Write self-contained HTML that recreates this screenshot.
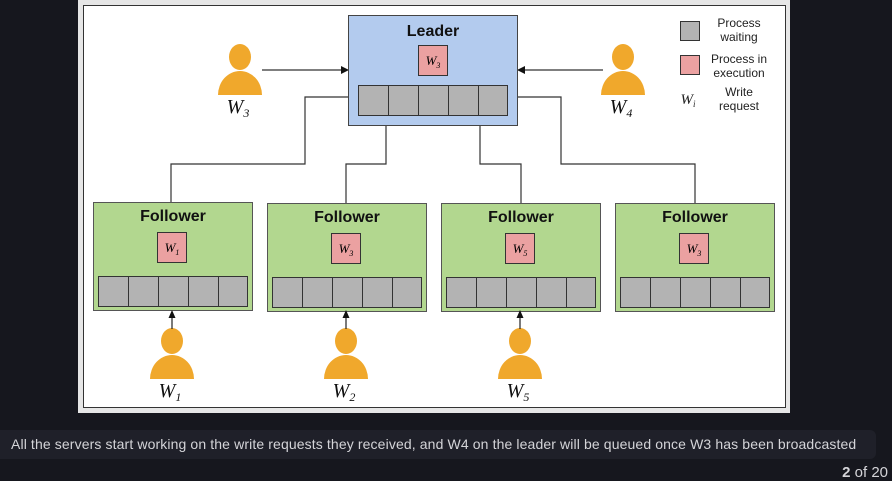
<!DOCTYPE html>
<html><head><meta charset="utf-8"><style>
html,body{margin:0;padding:0;background:#16171e;width:892px;height:481px;overflow:hidden;font-family:"Liberation Sans",sans-serif}
#cap{position:absolute;left:0;top:430px;width:876px;height:29px;background:#1f2029;border-radius:0 6px 6px 0;color:#d4d4d8;font-size:14px;line-height:29px;padding-left:11px;box-sizing:border-box;white-space:nowrap;letter-spacing:0.12px}
#pg{position:absolute;right:4px;top:464px;color:#d4d4d8;font-size:15px}
svg{position:absolute;left:0;top:0}
.m{font-family:"Liberation Serif",serif;font-style:italic}
</style></head><body>
<svg width="892" height="430">
<rect x="78" y="0" width="712" height="413" fill="#e6e6e6"/>
<rect x="83.5" y="5.5" width="702" height="402" fill="#fff" stroke="#333"/>
<g fill="none" stroke="#333" stroke-width="1.2">
<polyline points="349,97 305,97 305,164 171,164 171,202"/>
<polyline points="386,125 386,164 346,164 346,203"/>
<polyline points="480,125 480,164 521,164 521,203"/>
<polyline points="517,97 561,97 561,164 695,164 695,203"/>
<line x1="262" y1="70" x2="342" y2="70"/>
<line x1="603" y1="70" x2="524" y2="70"/>
</g>
<polygon points="349,70 341,66 341,74" fill="#111"/>
<polygon points="517,70 525,66 525,74" fill="#111"/>
<g>
<rect x="348.5" y="15.5" width="169" height="110" fill="#b3cbee" stroke="#444"/>
<text x="433" y="36" text-anchor="middle" font-size="16" font-weight="bold" fill="#111">Leader</text>
<rect x="418.5" y="45.5" width="29" height="30" fill="#eba1a1" stroke="#333"/>
<text x="433" y="65" text-anchor="middle" font-size="13" class="m">W<tspan font-size="8" dy="3">3</tspan></text>
<g fill="#b3b3b3" stroke="#333"><rect x="358.5" y="85.5" width="30" height="30"/><rect x="388.5" y="85.5" width="30" height="30"/><rect x="418.5" y="85.5" width="30" height="30"/><rect x="448.5" y="85.5" width="30" height="30"/><rect x="478.5" y="85.5" width="29" height="30"/></g>
</g>
<g id="fol"></g>
<g id="ppl"></g>
<g font-size="12" fill="#222" text-anchor="middle">
<rect x="680.5" y="21.5" width="19" height="19" fill="#b3b3b3" stroke="#333"/>
<text x="739" y="27">Process</text><text x="739" y="41">waiting</text>
<rect x="680.5" y="55.5" width="19" height="19" fill="#eba1a1" stroke="#333"/>
<text x="739" y="63">Process in</text><text x="739" y="77">execution</text>
<text x="688" y="104" font-size="15" class="m">W<tspan font-size="9" dy="3">i</tspan></text>
<text x="739" y="96">Write</text><text x="739" y="110">request</text>
</g>
</svg>
<div id="cap">All the servers start working on the write requests they received, and W4 on the leader will be queued once W3 has been broadcasted</div>
<div id="pg"><b>2</b> of 20</div>
<script>
const NS="http://www.w3.org/2000/svg";
const followerX=[93,267,441,615];
const followerLabels=["1","3","5","3"];
function mk(t,a,p){const e=document.createElementNS(NS,t);for(const k in a)e.setAttribute(k,a[k]);p.appendChild(e);return e;}
const fol=document.getElementById('fol');
followerX.forEach((x,i)=>{
  const y=i==0?202:203;
  const g=mk('g',{},fol);
  
  
  mk('rect',{x:x+.5,y:y+.5,width:159,height:108,fill:'#b2d78f',stroke:'#555'},g);
  const t=mk('text',{x:x+80,y:y+19,'text-anchor':'middle','font-size':16,'font-weight':'bold',fill:'#111'},g);t.textContent='Follower';
  mk('rect',{x:x+64.5,y:y+30.5,width:29,height:30,fill:'#eba1a1',stroke:'#333'},g);
  const w=mk('text',{x:x+79,y:y+50,'text-anchor':'middle','font-size':13,class:'m'},g);
  w.innerHTML='W<tspan font-size="8" dy="3">'+followerLabels[i]+'</tspan>';
  for(let c=0;c<5;c++)mk('rect',{x:x+5.5+c*30,y:y+74.5,width:c==4?29:30,height:30,fill:'#b3b3b3',stroke:'#333'},g);
});
const ppl=document.getElementById('ppl');
const people=[[240,45,"3"],[623,45,"4"],[172,329,"1"],[346,329,"2"],[520,329,"5"]];
people.forEach(([cx,y,l],i)=>{
  const g=mk('g',{},ppl);
  
  
  mk('ellipse',{cx:cx,cy:y+12,rx:11,ry:13,fill:'#f0a82c'},g);
  mk('path',{d:`M${cx-22} ${y+50} A22 24 0 0 1 ${cx+22} ${y+50} Z`,fill:'#f0a82c'},g);
  const t=mk('text',{x:cx-2,y:y+68,'text-anchor':'middle','font-size':20,class:'m',fill:'#111'},g);
  t.innerHTML='W<tspan font-size="12" dy="4">'+l+'</tspan>';
  if(i>=2){
    mk('line',{x1:cx,y1:y,x2:cx,y2:y-15,stroke:'#222','stroke-width':1.2},g);
    mk('polygon',{points:`${cx},${y-19} ${cx-3.5},${y-11} ${cx+3.5},${y-11}`,fill:'#111'},g);
  }
});
</script>
</body></html>
